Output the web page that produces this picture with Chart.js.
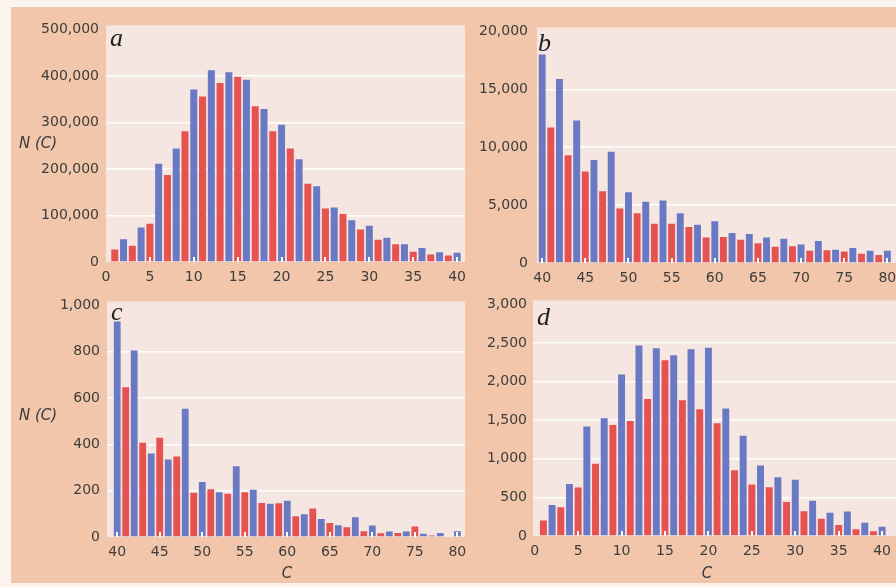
<!DOCTYPE html>
<html>
<head>
<meta charset="utf-8">
<script src="https://cdn.jsdelivr.net/npm/chart.js@4.4.1/dist/chart.umd.min.js"></script>
<style>
    html, body { margin: 0; padding: 0; width: 896px; height: 587px; overflow: hidden; background: #faf3ee; position: relative; }
    #fondo { position: absolute; left: 11px; top: 7px; width: 885px; height: 576px; background: #f1c6aa; }
    .panel { position: absolute; }
    .etiqueta { position: absolute; transform: translate(-50%, -50%); font: italic 15px "DejaVu Sans", sans-serif; color: #3a3a3a; white-space: nowrap; }
</style>
</head>
<body>
<div id="fondo"></div>
<div class="panel" id="panelA"><canvas></canvas></div>
<div class="panel" id="panelB"><canvas></canvas></div>
<div class="panel" id="panelC"><canvas></canvas></div>
<div class="panel" id="panelD"><canvas></canvas></div>
<div class="etiqueta" style="left:38px; top:143px;">N (C)</div>
<div class="etiqueta" style="left:38px; top:415px;">N (C)</div>
<div class="etiqueta" style="left:287px; top:573px;">C</div>
<div class="etiqueta" style="left:707px; top:573px;">C</div>

<script>
// ===================================== Datos Panel a (C = 1..40) ==================
const cRojoA = [1, 3, 5, 7, 9, 11, 13, 15, 17, 19, 21, 23, 25, 27, 29, 31, 33, 35, 37, 39];
const nRojoA = [27000, 35000, 82000, 187000, 281000, 356000, 385000, 398000, 335000, 281000,
                244000, 168000, 115000, 103000, 70000, 48000, 38000, 22000, 16000, 14000];
const cAzulA = [2, 4, 6, 8, 10, 12, 14, 16, 18, 20, 22, 24, 26, 28, 30, 32, 34, 36, 38, 40];
const nAzulA = [49000, 74000, 211000, 244000, 371000, 412000, 408000, 392000, 329000, 295000,
                221000, 163000, 117000, 90000, 78000, 52000, 38000, 30000, 21000, 20000];
const ticksXA = [0, 5, 10, 15, 20, 25, 30, 35, 40];

// ===================================== Datos Panel b (C = 40..80) ==================
const cRojoB = [41, 43, 45, 47, 49, 51, 53, 55, 57, 59, 61, 63, 65, 67, 69, 71, 73, 75, 77, 79];
const nRojoB = [11700, 9300, 7900, 6200, 4700, 4300, 3400, 3400, 3100, 2200,
                2250, 2000, 1700, 1400, 1450, 1050, 1100, 1000, 800, 700];
const cAzulB = [40, 42, 44, 46, 48, 50, 52, 54, 56, 58, 60, 62, 64, 66, 68, 70, 72, 74, 76, 78, 80];
const nAzulB = [18000, 15900, 12300, 8900, 9600, 6100, 5300, 5400, 4300, 3300, 3600,
                2600, 2500, 2200, 2100, 1600, 1900, 1150, 1300, 1050, 1050];
const ticksXB = [40, 45, 50, 55, 60, 65, 70, 75, 80];

// ===================================== Datos Panel c (C = 40..80) ==================
const cRojoC = [41, 43, 45, 47, 49, 51, 53, 55, 57, 59, 61, 63, 65, 67, 69, 71, 73, 75, 77, 79];
const nRojoC = [647, 407, 429, 348, 191, 206, 187, 193, 147, 146,
                90, 123, 60, 42, 25, 16, 17, 45, 7, 3];
const cAzulC = [40, 42, 44, 46, 48, 50, 52, 54, 56, 58, 60, 62, 64, 66, 68, 70, 72, 74, 76, 78, 80];
const nAzulC = [930, 805, 360, 335, 554, 237, 193, 305, 204, 144, 156,
                98, 78, 51, 85, 50, 24, 24, 14, 17, 25];
const ticksXC = [40, 45, 50, 55, 60, 65, 70, 75, 80];

// ===================================== Datos Panel d (C = 1..40) ==================
const cRojoD = [1, 3, 5, 7, 9, 11, 13, 15, 17, 19, 21, 23, 25, 27, 29, 31, 33, 35, 37, 39];
const nRojoD = [200, 372, 628, 935, 1437, 1489, 1775, 2277, 1758, 1641,
                1462, 853, 666, 632, 441, 320, 223, 144, 88, 62];
const cAzulD = [2, 4, 6, 8, 10, 12, 14, 16, 18, 20, 22, 24, 26, 28, 30, 32, 34, 36, 38, 40];
const nAzulD = [403, 675, 1420, 1524, 2091, 2468, 2433, 2342, 2420, 2437,
                1650, 1300, 912, 760, 730, 458, 301, 316, 172, 120];
const ticksXD = [0, 5, 10, 15, 20, 25, 30, 35, 40];


// ===================================== Colores ==================
const colorAzul = "#6a79c4";
const colorRojo = "#e6524f";
const colorZona = "#f5e6e1";
const colorTexto = "#3d3d3d";


//============ Guarda instancias de los gráficos =========================
var graficos = [];


// ===================================== Plugin: fondo, marcas y letra del panel ==================
const pluginPanel = {
    id: 'pluginPanel',
    beforeDraw(chart) {
        const { ctx, chartArea: a } = chart;
        ctx.save();
        ctx.fillStyle = colorZona;
        ctx.fillRect(a.left, a.top - 4, a.right - a.left, a.bottom - a.top + 4);
        ctx.restore();
    },
    afterDatasetsDraw(chart, args, opts) {
        const { ctx, chartArea: a, scales: { x } } = chart;
        ctx.save();
        // marquitas blancas al pie de las barras cada 5
        ctx.fillStyle = "#ffffff";
        x.ticks.forEach(t => {
            if (t.value < 1) return;
            const px = Math.round(x.getPixelForValue(t.value));
            ctx.fillRect(px - 1, a.bottom - 5, 2, 5);
        });
        // letra del panel
        ctx.fillStyle = "#222222";
        ctx.font = 'italic 26px "Liberation Serif", serif';
        ctx.textBaseline = 'alphabetic';
        ctx.fillText(opts.letra, a.left + opts.dx, a.top + opts.dy);
        ctx.restore();
    }
};


// ===================================== Crear un panel ========================
function crearPanel(p) {
    const [L, T, R, B] = p.area;
    const div = document.getElementById(p.id);
    div.style.left = (L - p.ejeY) + "px";
    div.style.top = (T - 12) + "px";
    div.style.width = (R - L + p.ejeY + 10) + "px";
    div.style.height = (B - T + 12 + p.ejeX) + "px";

    const puntos = (cs, ns) => cs.map((c, i) => ({ x: c, y: ns[i] }));

    return new Chart(div.querySelector("canvas"), {
        type: 'bar',
        data: {
            datasets: [
                { label: 'rojo', data: puntos(p.rojo[0], p.rojo[1]), backgroundColor: colorRojo },
                { label: 'azul', data: puntos(p.azul[0], p.azul[1]), backgroundColor: colorAzul }
            ]
        },
        options: {
            responsive: true,
            maintainAspectRatio: false,
            animation: false,
            events: [],
            grouped: false,
            barPercentage: 1,
            categoryPercentage: 0.8,
            layout: { padding: { top: 12, right: 10, left: 0, bottom: 0 } },
            plugins: {
                legend: { display: false },
                tooltip: { enabled: false },
                pluginPanel: { letra: p.letra, dx: p.letraDx, dy: p.letraDy }
            },
            scales: {
                x: {
                    type: 'linear',
                    min: p.xMin,
                    max: p.xMax,
                    offset: false,
                    grid: { display: false, drawTicks: false },
                    border: { display: false },
                    afterBuildTicks: s => { s.ticks = p.ticksX.map(v => ({ value: v })); },
                    afterFit: s => { s.height = p.ejeX; },
                    ticks: {
                        padding: 7,
                        color: colorTexto,
                        font: { family: '"DejaVu Sans", sans-serif', size: 14 },
                        maxRotation: 0,
                        autoSkip: false,
                        callback: v => String(v)
                    }
                },
                y: {
                    min: 0,
                    max: p.yMax,
                    grid: {
                        drawTicks: false,
                        lineWidth: 1.5,
                        color: c => (c.tick && (c.tick.value === 0 || c.tick.value === p.yMax)) ? 'rgba(0,0,0,0)' : 'rgba(255,255,255,0.95)'
                    },
                    border: { display: false },
                    afterFit: s => { s.width = p.ejeY; },
                    ticks: {
                        stepSize: p.yPaso,
                        padding: p.yPad,
                        color: colorTexto,
                        font: { family: '"DejaVu Sans", sans-serif', size: 14 },
                        callback: v => Number(v).toLocaleString('en-US')
                    }
                }
            }
        },
        plugins: [pluginPanel]
    });
}


// ===================================== Inicializar Los Paneles ====================
const paneles = [
    { id: 'panelA', letra: 'a', area: [106, 26, 465, 262], xMin: 0, xMax: 40.9, yMax: 500000, yPaso: 100000,
      ejeY: 100, ejeX: 30, yPad: 7, letraDx: 4, letraDy: 17, ticksX: ticksXA, rojo: [cRojoA, nRojoA], azul: [cAzulA, nAzulA] },
    { id: 'panelB', letra: 'b', area: [537, 26, 896, 263], xMin: 39.4, xMax: 81, yMax: 20000, yPaso: 5000,
      ejeY: 70, ejeX: 30, yPad: 9, letraDx: 1, letraDy: 20, ticksX: ticksXB, rojo: [cRojoB, nRojoB], azul: [cAzulB, nAzulB] },
    { id: 'panelC', letra: 'c', area: [107, 302, 465, 537], xMin: 38.8, xMax: 80.9, yMax: 1000, yPaso: 200,
      ejeY: 100, ejeX: 46, yPad: 7, letraDx: 4, letraDy: 15, ticksX: ticksXC, rojo: [cRojoC, nRojoC], azul: [cAzulC, nAzulC] },
    { id: 'panelD', letra: 'd', area: [533, 302, 896, 536], xMin: -0.2, xMax: 41.6, yMax: 3000, yPaso: 500,
      ejeY: 70, ejeX: 46, yPad: 6, letraDx: 4, letraDy: 21, ticksX: ticksXD, rojo: [cRojoD, nRojoD], azul: [cAzulD, nAzulD] }
];

paneles.forEach(p => graficos.push(crearPanel(p)));
</script>
</body>
</html>
